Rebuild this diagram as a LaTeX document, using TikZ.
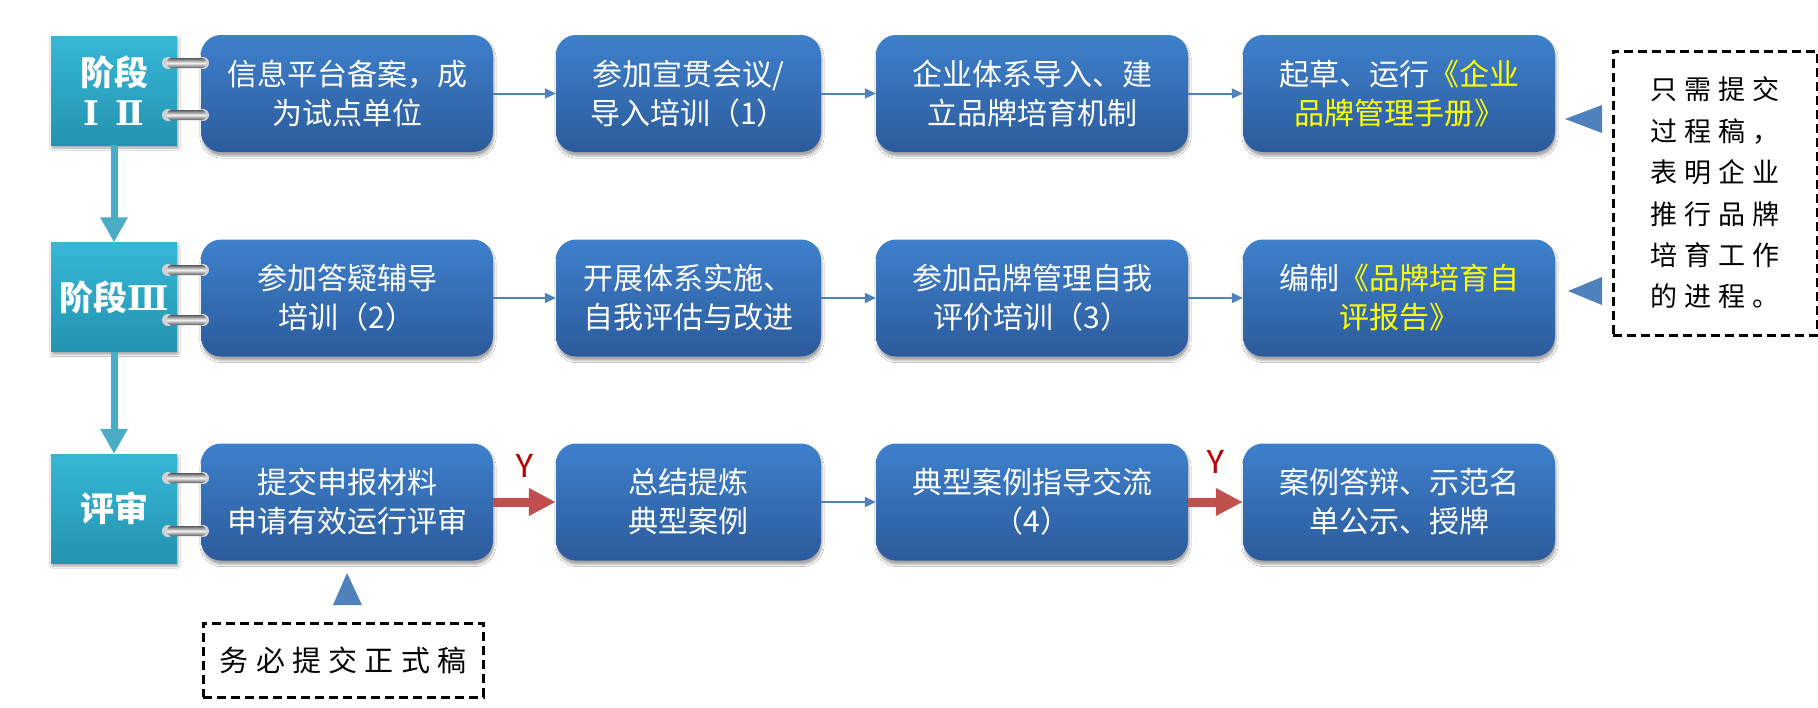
\documentclass[tikz,border=0pt]{standalone}
\usepackage{fontspec}
\setmainfont{Noto Sans CJK SC}
\newfontfamily\cjk{Noto Sans CJK SC}
\newfontfamily\cjknote[LetterSpace=25]{Noto Sans CJK SC}
\newfontfamily\numfont{DejaVu Serif}
\newfontfamily\latin{Carlito}
\usepackage{xcolor}
\usepackage{tikz}
\usetikzlibrary{arrows.meta, shadows.blur, positioning}

\definecolor{tasktop}{HTML}{3E80CC}
\definecolor{taskbot}{HTML}{2C5B9C}
\definecolor{stagetop}{HTML}{37B7D7}
\definecolor{stagebot}{HTML}{2393B0}
\definecolor{flowblue}{HTML}{4F81BD}
\definecolor{stagearr}{HTML}{4BACC6}
\definecolor{okred}{HTML}{C0504D}
\definecolor{okfont}{HTML}{C00000}
\definecolor{hilite}{RGB}{255,255,0}

\begin{document}
\begin{tikzpicture}[x=1pt, y=-1pt,
  stage/.style={minimum width=126pt, minimum height=109pt, inner sep=0pt, top color=stagetop, bottom color=stagebot,
                text=white, align=center, font=\cjk\bfseries\fontsize{34}{40}\selectfont,
                blur shadow={shadow xshift=1pt, shadow yshift=-3pt, shadow opacity=35}},
  task/.style={rounded corners=20pt, minimum height=117pt, inner sep=0pt, top color=tasktop, bottom color=taskbot,
               text=white, align=center, font=\cjk\fontsize{30}{39}\selectfont,
               blur shadow={shadow xshift=1pt, shadow yshift=-4pt, shadow opacity=35}},
  note/.style={draw, line width=3pt, dash pattern=on 9pt off 5pt, inner sep=0pt, align=left},
  flow/.style={-{Triangle[length=11pt, width=10pt]}, line width=2pt, flowblue},
  pass/.style={-{Triangle[length=27pt, width=26pt]}, line width=9pt, okred},
  down/.style={-{Triangle[length=25pt, width=26pt]}, line width=7pt, stagearr},
  yes/.style={text=okfont, inner sep=0pt, font=\latin\fontsize{36}{36}\selectfont},
  hint/.style={fill=flowblue},
]
  \path[use as bounding box, fill=white] (0,0) rectangle (1818,707);

  \node[stage] (S1) at (114,90.5) {阶段\\{\numfont\bfseries Ⅰ\hspace{16pt}Ⅱ}};
  \node[stage] (S2) at (114,297) {阶段{\numfont\bfseries Ⅲ}};
  \node[stage] (S3) at (114,508.5) {评审};

  \node[task, minimum width=292pt] (A1) at (347,93.5) {信息平台备案，成\\为试点单位};
  \node[task, minimum width=265pt] (A2) at (688.5,93.5) {参加宣贯会议/\\导入培训（1）};
  \node[task, minimum width=312pt] (A3) at (1032,93.5) {企业体系导入、建\\立品牌培育机制};
  \node[task, minimum width=312pt] (A4) at (1399,93.5) {起草、运行{\color{hilite}《企业}\\{\color{hilite}品牌管理手册》}};

  \node[task, minimum width=292pt] (B1) at (347,298) {参加答疑辅导\\培训（2）};
  \node[task, minimum width=265pt] (B2) at (688.5,298) {开展体系实施、\\自我评估与改进};
  \node[task, minimum width=312pt] (B3) at (1032,298) {参加品牌管理自我\\评价培训（3）};
  \node[task, minimum width=312pt] (B4) at (1399,298) {编制{\color{hilite}《品牌培育自}\\{\color{hilite}评报告》}};

  \node[task, minimum width=292pt] (C1) at (347,502) {提交申报材料\\申请有效运行评审};
  \node[task, minimum width=265pt] (C2) at (688.5,502) {总结提炼\\典型案例};
  \node[task, minimum width=312pt] (C3) at (1032,502) {典型案例指导交流\\（4）};
  \node[task, minimum width=312pt] (C4) at (1399,502) {案例答辩、示范名\\单公示、授牌};

  \node[note, minimum width=204pt, minimum height=284pt, font=\cjknote\fontsize{27}{41.4}\selectfont] (N1) at (1715,193)
    {只需提交\\过程稿，\\表明企业\\推行品牌\\培育工作\\的进程。};
  \node[note, minimum width=280pt, minimum height=74pt, font=\cjknote\fontsize{29}{35}\selectfont] (N2) at (343,660) {务必提交正式稿};

  \foreach \ry in {63,115,270,320,478,531}{
    \fill[gray!35] (168,\ry) circle[radius=6pt];
    \fill[gray!35] (203,\ry) circle[radius=6pt];
    \shade[top color=gray!70!black, bottom color=gray!70!black, middle color=white!90!gray, rounded corners=4pt]
      (167,\ry-5) rectangle (206,\ry+5);
  }

  \draw[down] (S1) -- (S2);
  \draw[down] (S2) -- (S3);

  \draw[flow] (A1) -- (A2);
  \draw[flow] (A2) -- (A3);
  \draw[flow] (A3) -- (A4);
  \draw[flow] (B1) -- (B2);
  \draw[flow] (B2) -- (B3);
  \draw[flow] (B3) -- (B4);
  \draw[pass] (C1) -- node[above=20pt, yes]{Y} (C2);
  \draw[flow] (C2) -- (C3);
  \draw[pass] (C3) -- node[above=24pt, yes]{Y} (C4);

  \fill[hint] (1565,119) -- (1602,105) -- (1602,133) -- cycle;
  \fill[hint] (1568,291) -- (1602,277) -- (1602,305) -- cycle;
  \fill[hint] (347,573) -- (362,605) -- (333,605) -- cycle;
\end{tikzpicture}
\end{document}
